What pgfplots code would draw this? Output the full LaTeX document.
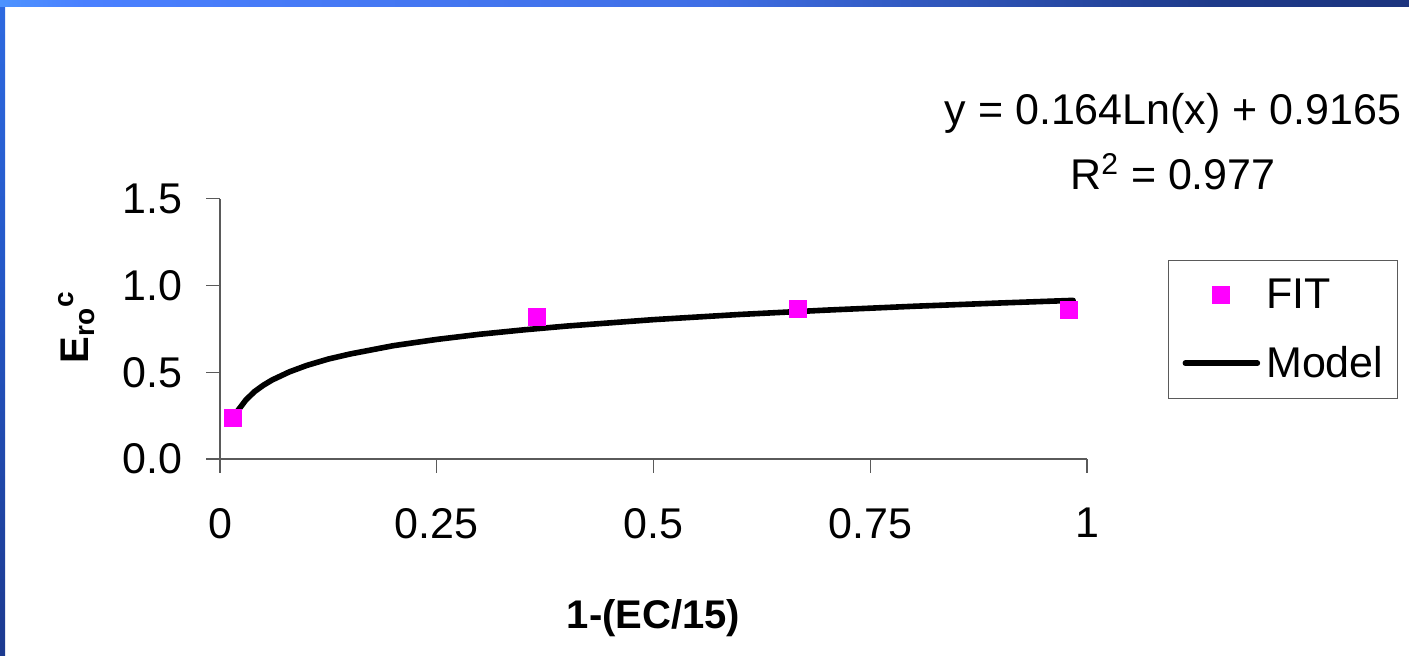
\documentclass[border=0pt]{standalone}
\usepackage{fontspec}
\setmainfont{Liberation Sans}
\usepackage{pgfplots}
\pgfplotsset{compat=1.18}

\definecolor{fitmag}{HTML}{FF00FF}
\definecolor{axgray}{HTML}{5A5A5A}
\definecolor{bA}{HTML}{3A7CE8}
\definecolor{bB}{HTML}{55C0FF}
\definecolor{bC}{HTML}{4A80FF}
\definecolor{bD}{HTML}{3F6FE6}
\definecolor{bE}{HTML}{1E3A8A}
\definecolor{bF}{HTML}{1B2C6E}
\definecolor{bG}{HTML}{1E3D5E}
\definecolor{lTop}{HTML}{3A80FF}
\definecolor{lMid}{HTML}{2458C8}
\definecolor{lBot}{HTML}{152060}

\pgfdeclarehorizontalshading{topbar}{100bp}{color(0bp)=(bA); color(8bp)=(bA); color(18bp)=(bB); color(28bp)=(bC); color(50bp)=(bD); color(68bp)=(bE); color(85bp)=(bF); color(100bp)=(bG)}
\pgfdeclareverticalshading{leftbar}{100bp}{color(0bp)=(lBot); color(55bp)=(lMid); color(100bp)=(lTop)}

% model curve
\pgfplotstableread{
x y
0.016 0.238
0.02 0.275
0.03 0.341
0.04 0.389
0.05 0.425
0.06 0.455
0.08 0.502
0.10 0.539
0.125 0.576
0.15 0.605
0.2 0.653
0.25 0.689
0.3 0.719
0.35 0.744
0.4 0.766
0.5 0.803
0.6 0.833
0.7 0.858
0.8 0.880
0.9 0.899
0.984 0.914
}\modeldata

\pgfplotstableread{
x y
0.015 0.236
0.366 0.816
0.666 0.866
0.979 0.862
}\fitdata

\begin{document}
\begin{tikzpicture}
  % slide background
  \fill[white] (0pt,0pt) rectangle (704.5pt,328pt);
  \shade[shading=leftbar] (0pt,0pt) rectangle (2.5pt,328pt);
  \shade[shading=topbar] (0pt,324.5pt) rectangle (704.5pt,328pt);
  \path[use as bounding box] (0pt,0pt) rectangle (704.5pt,328pt);

  \begin{axis}[
    at={(110pt,98.5pt)}, anchor=south west,
    scale only axis,
    width=433.5pt, height=130.15pt,
    xmin=0, xmax=1, ymin=0, ymax=1.5,
    axis x line=bottom, axis y line=left,
    axis line style={axgray, line width=0.65pt, -},
    xtick={0,0.25,0.5,0.75,1},
    ytick={0,0.5,1,1.5},
    tick align=outside, major tick length=7pt,
    tick style={axgray, line width=0.65pt},
    /pgf/number format/assume math mode=true,
    tick label style={font=\fontsize{21.5}{24}\selectfont, inner sep=0pt},
    yticklabel style={/pgf/number format/fixed, /pgf/number format/fixed zerofill,
      /pgf/number format/precision=1, xshift=-11.5pt},
    xticklabel style={yshift=-17.5pt},
    xlabel={\textbf{1-(EC/15)}},
    xlabel style={font=\fontsize{20}{22}\selectfont, at={(axis description cs:0.5,-0.65)}, anchor=base},
    ylabel={\textbf{E\textsubscript{ro}\textsuperscript{c}}},
    ylabel style={font=\fontsize{20}{22}\selectfont, at={(axis description cs:-0.165,0.507)}, anchor=center},
    legend style={at={(axis description cs:1.0934,0.7645)}, anchor=north west,
      draw=axgray, line width=0.6pt, inner xsep=7pt, inner ysep=9pt,
      font=\fontsize{21.5}{24}\selectfont,
      nodes={inner sep=0pt, anchor=west},
      column sep=3pt, row sep=17.5pt},
    clip=false,
  ]
    \addplot[only marks, mark=square*, mark size=4.25pt,
      mark options={fill=fitmag, draw=fitmag},
      legend image code/.code={\draw[only marks, mark=square*, mark size=4.25pt, mark options={fill=fitmag, draw=fitmag}] plot coordinates {(18pt,0pt)};}]
      table[x=x, y=y] {\fitdata};
    \addlegendentry{FIT}
    \addplot[black, line width=2.8pt, line join=round, line cap=round, mark=none,
      legend image code/.code={\draw[black, line width=2.8pt, line cap=round] (0pt,0pt) -- (36pt,0pt);}]
      table[x=x, y=y] {\modeldata};
    \addlegendentry{Model}
  \end{axis}

  \node[font=\fontsize{21.5}{24}\selectfont, anchor=base] at (586.5pt,265.5pt) {y = 0.164Ln(x) + 0.9165};
  \node[font=\fontsize{21.5}{24}\selectfont, anchor=base] at (586.5pt,233pt) {R\textsuperscript{2} = 0.977};
\end{tikzpicture}
\end{document}
